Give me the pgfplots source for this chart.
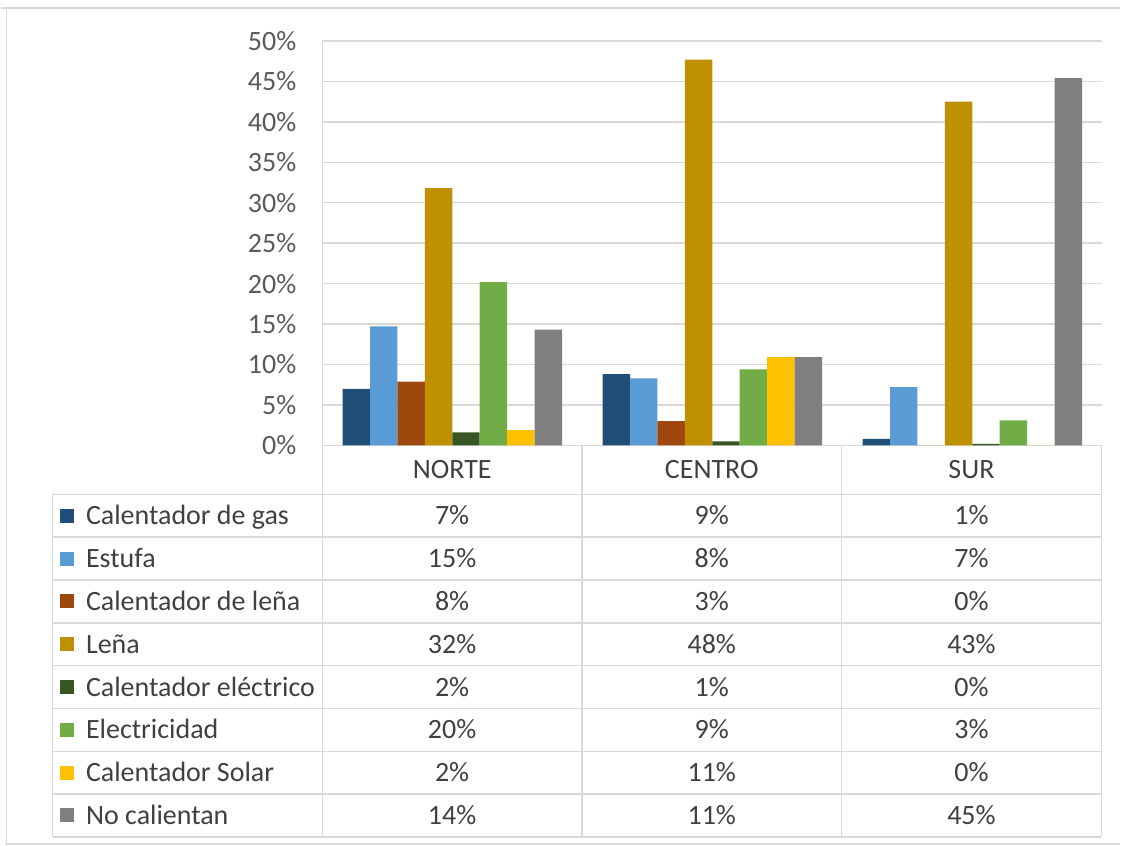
\documentclass[border=0pt]{standalone}
\usepackage{pgfplots}
\pgfplotsset{compat=1.18}
\usepackage{pgfplotstable}
\usepackage{fontspec}
\setmainfont{Carlito}
\definecolor{cgas}{HTML}{1F4E79}
\definecolor{cest}{HTML}{5B9BD5}
\definecolor{cle}{HTML}{9E480E}
\definecolor{clena}{HTML}{BF9000}
\definecolor{cel}{HTML}{375623}
\definecolor{celec}{HTML}{70AD47}
\definecolor{csol}{HTML}{FFC000}
\definecolor{cno}{HTML}{7F7F7F}
\definecolor{gridc}{HTML}{D9D9D9}
\definecolor{txt}{HTML}{404040}
\definecolor{ticktxt}{HTML}{595959}

\pgfplotstableread{
x gas estufa cle lena cel elec solar nocal
0 7.0 14.7 7.9 31.8 1.6 20.2 1.9 14.3
1 8.8 8.3 3.0 47.7 0.5 9.4 10.9 10.9
2 0.8 7.2 0.0 42.5 0.2 3.1 0.0 45.4
}\datatab

\begin{document}
\begin{tikzpicture}
\begin{axis}[
  name=ax, at={(0,0)}, anchor=south west,
  width=390.5pt, height=202.5pt, scale only axis,
  xmin=-0.5, xmax=2.5, ymin=0, ymax=50,
  ybar=0pt, bar width=0.1055,
  xtick=\empty,
  ytick={0,5,...,50},
  yticklabel={\pgfmathprintnumber{\tick}\%},
  /pgf/number format/assume math mode=true,
  yticklabel style={font=\fontsize{14pt}{16pt}\selectfont, text=ticktxt, xshift=-9.5pt},
  major tick length=0pt,
  ymajorgrids, grid style={gridc, line width=0.75pt},
  axis line style={draw=none},
  clip=false,
]
\addplot[fill=cgas, draw=none] table[x=x, y=gas] {\datatab};
\addplot[fill=cest, draw=none] table[x=x, y=estufa] {\datatab};
\addplot[fill=cle, draw=none] table[x=x, y=cle] {\datatab};
\addplot[fill=clena, draw=none] table[x=x, y=lena] {\datatab};
\addplot[fill=cel, draw=none] table[x=x, y=cel] {\datatab};
\addplot[fill=celec, draw=none] table[x=x, y=elec] {\datatab};
\addplot[fill=csol, draw=none] table[x=x, y=solar] {\datatab};
\addplot[fill=cno, draw=none] table[x=x, y=nocal] {\datatab};
\end{axis}
\begin{scope}[shift={(ax.south west)}, x=0.5pt, y=-0.5pt, shift={(-322,-446)}]
  \path (0,0) rectangle (1121,847);
  % outer frame
  \draw[gridc, line width=0.75pt] (0,8) -- (1121,8);
  \draw[gridc, line width=0.75pt] (6,8) -- (6,845) -- (1121,845);
  % table lines
  \foreach \k in {0,...,8} {
    \draw[gridc, line width=0.75pt] (52,{495+\k*42.875}) -- (1102,{495+\k*42.875});
  }
  \draw[gridc, line width=0.75pt] (322,41) -- (322,838);
  \foreach \xx in {582,842,1102} {
    \draw[gridc, line width=0.75pt] (\xx,446) -- (\xx,838);
  }
  \draw[gridc, line width=0.75pt] (52,495) -- (52,838);
  % headers
  \foreach \h/\xx in {NORTE/452, CENTRO/712, SUR/972} {
    \node[anchor=base, inner sep=0, text=txt, font=\fontsize{14pt}{16pt}\selectfont] at (\xx,479) {\h};
  }
  \foreach [count=\i from 0] \lab/\col/\a/\b/\c in {
    Calentador de gas/cgas/7/9/1,
    Estufa/cest/15/8/7,
    Calentador de leña/cle/8/3/0,
    Leña/clena/32/48/43,
    Calentador eléctrico/cel/2/1/0,
    Electricidad/celec/20/9/3,
    Calentador Solar/csol/2/11/0,
    No calientan/cno/14/11/45} {
    \pgfmathsetmacro\yc{495+(\i+0.5)*42.875}
    \fill[\col] (59,\yc-7) rectangle (73,\yc+7);
    \node[anchor=base west, inner sep=0, text=txt, font=\fontsize{14pt}{16pt}\selectfont] at (85,\yc+9) {\lab};
    \node[anchor=base, inner sep=0, text=txt, font=\fontsize{14pt}{16pt}\selectfont] at (452,\yc+9) {\a\%};
    \node[anchor=base, inner sep=0, text=txt, font=\fontsize{14pt}{16pt}\selectfont] at (712,\yc+9) {\b\%};
    \node[anchor=base, inner sep=0, text=txt, font=\fontsize{14pt}{16pt}\selectfont] at (972,\yc+9) {\c\%};
  }
\end{scope}
\end{tikzpicture}
\end{document}
